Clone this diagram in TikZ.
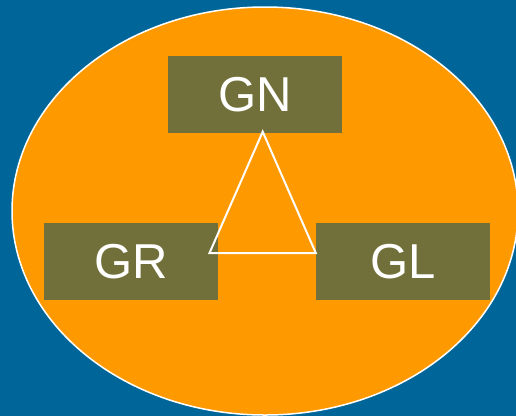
\documentclass[tikz,border=0pt]{standalone}
\usepackage{fontspec}
\setmainfont{Liberation Sans}
\definecolor{bgblue}{RGB}{0,102,153}
\definecolor{gorange}{RGB}{255,153,0}
\definecolor{golive}{RGB}{114,112,58}
\tikzset{gbox/.style={rectangle, fill=golive, text=white, inner sep=0pt,
  minimum width=174pt, minimum height=77pt, font=\fontsize{49}{49}\selectfont}}
\begin{document}
\begin{tikzpicture}[x=1pt, y=-1pt]
\useasboundingbox (0,0) rectangle (516,416);
\fill[bgblue] (0,0) rectangle (516,416);
\draw[white, line width=1.5pt, fill=gorange] (265,211) ellipse [x radius=253, y radius=204];
\node[gbox] (gn) at (255,94.8){GN};
\node[gbox] (gr) at (131,261.5){GR};
\node[gbox] (gl) at (403,261.5){GL};
\coordinate (top) at (262.7,131.7);
\coordinate (left) at (209.5,253);
\coordinate (right) at (gl.west |- left);
\draw[white, line width=2pt](top) -- (left) -- (right) -- cycle;
\end{tikzpicture}
\end{document}
